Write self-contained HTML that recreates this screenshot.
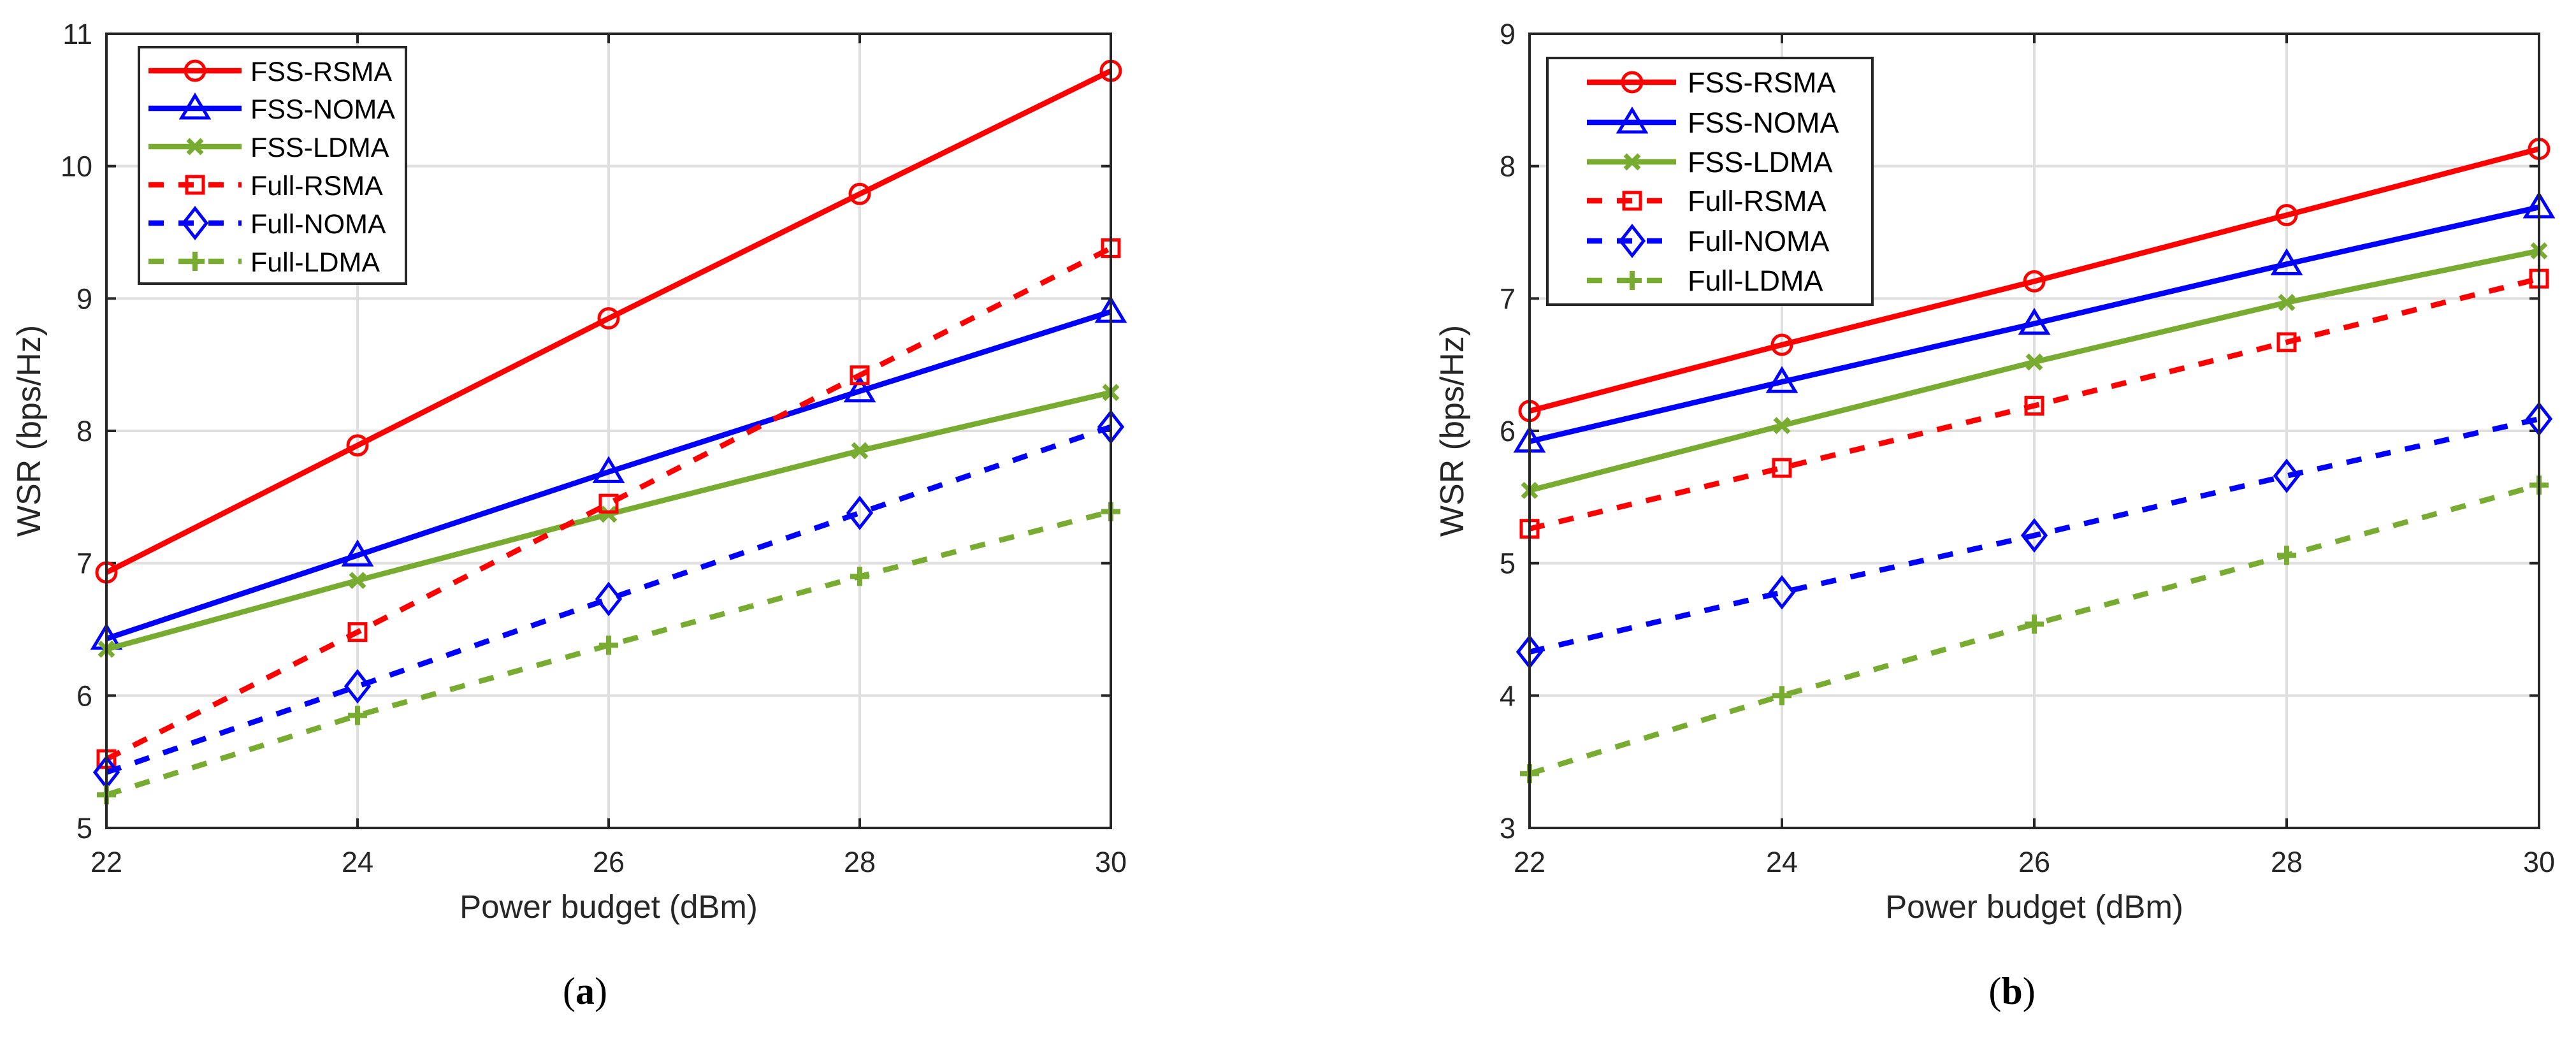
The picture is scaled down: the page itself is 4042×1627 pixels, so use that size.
<!DOCTYPE html>
<html><head><meta charset="utf-8"><style>
html,body{margin:0;padding:0;background:#fff;}
svg{display:block;font-family:"Liberation Sans",Arial,sans-serif;}
</style></head><body>
<svg id="fig" width="4042" height="1627" viewBox="0 0 4042 1627" xmlns="http://www.w3.org/2000/svg"></svg>
<script>
const xCategories = [22, 24, 26, 28, 30];
const seriesNames = ["FSS-RSMA","FSS-NOMA","FSS-LDMA","Full-RSMA","Full-NOMA","Full-LDMA"];
const aFssRsma  = [6.93, 7.89, 8.85, 9.79, 10.72];
const aFssNoma  = [6.43, 7.06, 7.69, 8.30, 8.90];
const aFssLdma  = [6.35, 6.87, 7.37, 7.85, 8.29];
const aFullRsma = [5.52, 6.48, 7.45, 8.42, 9.38];
const aFullNoma = [5.42, 6.07, 6.73, 7.38, 8.03];
const aFullLdma = [5.25, 5.85, 6.38, 6.90, 7.39];
const bFssRsma  = [6.15, 6.65, 7.13, 7.63, 8.13];
const bFssNoma  = [5.92, 6.37, 6.81, 7.26, 7.69];
const bFssLdma  = [5.55, 6.04, 6.52, 6.97, 7.36];
const bFullRsma = [5.26, 5.72, 6.19, 6.67, 7.15];
const bFullNoma = [4.33, 4.78, 5.21, 5.66, 6.09];
const bFullLdma = [3.41, 4.00, 4.54, 5.06, 5.59];
const aYTicks = [5,6,7,8,9,10,11];
const bYTicks = [3,4,5,6,7,8,9];

const NS="http://www.w3.org/2000/svg";
const svg=document.getElementById('fig');
function mk(tag,attrs,parent){const e=document.createElementNS(NS,tag);for(const k in attrs)e.setAttribute(k,attrs[k]);(parent||svg).appendChild(e);return e;}
const styles=[
 {c:"#ff0000",dash:null,m:"circle"},
 {c:"#0000ff",dash:null,m:"tri"},
 {c:"#77ac30",dash:null,m:"x"},
 {c:"#ff0000",dash:"24 23",m:"square"},
 {c:"#0000ff",dash:"24 23",m:"diamond"},
 {c:"#77ac30",dash:"24 23",m:"plus"}];
function marker(g,type,x,y,c){
  let e;
  if(type==="circle"){e=mk('circle',{cx:x,cy:y,r:15,fill:'none',stroke:c,'stroke-width':5},g);}
  else if(type==="tri"){e=mk('polygon',{points:`${x},${y-20} ${x+21},${y+15} ${x-21},${y+15}`,fill:'none',stroke:c,'stroke-width':5},g);}
  else if(type==="x"){e=mk('path',{d:`M${x-11},${y-11}L${x+11},${y+11}M${x-11},${y+11}L${x+11},${y-11}`,stroke:c,'stroke-width':7,fill:'none'},g);}
  else if(type==="square"){e=mk('rect',{x:x-13,y:y-13,width:26,height:26,fill:'none',stroke:c,'stroke-width':5},g);}
  else if(type==="diamond"){e=mk('polygon',{points:`${x},${y-23} ${x+18},${y} ${x},${y+23} ${x-18},${y}`,fill:'none',stroke:c,'stroke-width':5},g);}
  else {e=mk('path',{d:`M${x-15},${y}L${x+15},${y}M${x},${y-15}L${x},${y+15}`,stroke:c,'stroke-width':8,fill:'none'},g);}
  return e;
}
function panel(id,left,right,top,bottom,yTicks,series,leg,caption,capX){
  const y0=yTicks[0],y1=yTicks[yTicks.length-1];
  const X=v=>left+(v-xCategories[0])/(xCategories[xCategories.length-1]-xCategories[0])*(right-left);
  const Y=v=>bottom-(v-y0)/(y1-y0)*(bottom-top);
  const g=mk('g',{});
  
  
  // grid
  xCategories.forEach(v=>{const l=mk('line',{x1:X(v),x2:X(v),y1:top,y2:bottom,stroke:'#dfdfdf','stroke-width':4},g);
    });
  yTicks.forEach(v=>{const l=mk('line',{x1:left,x2:right,y1:Y(v),y2:Y(v),stroke:'#dfdfdf','stroke-width':4},g);
    });
  // ticks
  xCategories.forEach(v=>{
    mk('line',{x1:X(v),x2:X(v),y1:bottom,y2:bottom-15,stroke:'#262626','stroke-width':4},g);
    mk('line',{x1:X(v),x2:X(v),y1:top,y2:top+15,stroke:'#262626','stroke-width':4},g);
    const t=mk('text',{x:X(v),y:1368,'font-size':45,fill:'#262626','text-anchor':'middle'},g);t.textContent=v;
    });
  yTicks.forEach(v=>{
    mk('line',{x1:left,x2:left+15,y1:Y(v),y2:Y(v),stroke:'#262626','stroke-width':4},g);
    mk('line',{x1:right,x2:right-15,y1:Y(v),y2:Y(v),stroke:'#262626','stroke-width':4},g);
    const t=mk('text',{x:left-22,y:Y(v)+16,'font-size':45,fill:'#262626','text-anchor':'end'},g);t.textContent=v;
    });
  // series
  series.forEach((vals,i)=>{
    const s=styles[i];
    const sg=mk('g',{},g);
    
    
    const pts=vals.map((v,j)=>X(xCategories[j])+','+Y(v)).join(' ');
    const a={points:pts,fill:'none',stroke:s.c,'stroke-width':8.5,'stroke-linejoin':'round'};
    if(s.dash)a['stroke-dasharray']=s.dash;
    mk('polyline',a,sg);
    vals.forEach((v,j)=>{const m=marker(sg,s.m,X(xCategories[j]),Y(v),s.c);
      });
  });
  // axes box
  const box=mk('rect',{x:left,y:top,width:right-left,height:bottom-top,fill:'none',stroke:'#262626','stroke-width':4},g);
  
  // legend
  const lg=mk('g',{},g);
  
  
  mk('rect',{x:leg.x,y:leg.y,width:leg.w,height:leg.h,fill:'#fff',stroke:'#262626','stroke-width':4},lg);
  seriesNames.forEach((n,i)=>{
    const s=styles[i];const yy=leg.rows[i];
    const eg=mk('g',{},lg);
    
    
    const a={x1:leg.l1,x2:leg.l2,y1:yy,y2:yy,stroke:s.c,'stroke-width':8.5};
    if(s.dash)a['stroke-dasharray']=s.dash;
    mk('line',a,eg);
    marker(eg,s.m,leg.mx,yy,s.c);
    const t=mk('text',{x:leg.tx,y:yy+16,'font-size':leg.fs,fill:'#000'},eg);t.textContent=n;
  });
  // labels
  const cx=(left+right)/2;
  const xl=mk('text',{x:cx,y:1440,'font-size':51,fill:'#262626','text-anchor':'middle'},g);xl.textContent='Power budget (dBm)';
  
  const yl=mk('text',{x:0,y:0,'font-size':52,fill:'#262626','text-anchor':'middle',transform:`translate(${left-104},${(top+bottom)/2}) rotate(-90)`},g);yl.textContent='WSR (bps/Hz)';
  
  const cap=mk('text',{x:capX,y:1575,'font-size':60,fill:'#000','text-anchor':'middle','font-family':'"Liberation Serif",serif'},g);
  const t1=mk('tspan',{},cap);t1.textContent='(';
  const t2=mk('tspan',{'font-weight':'bold'},cap);t2.textContent=caption;
  const t3=mk('tspan',{},cap);t3.textContent=')';
  
}
panel('panel-a',167,1743,53,1299,aYTicks,[aFssRsma,aFssNoma,aFssLdma,aFullRsma,aFullNoma,aFullLdma],
 {x:218,y:74,w:419,h:371,rows:[111,170,230,290,350,410],l1:233,l2:379,mx:306,tx:393,fs:43},'a',918);
panel('panel-b',2400,3984,53,1299,bYTicks,[bFssRsma,bFssNoma,bFssLdma,bFullRsma,bFullNoma,bFullLdma],
 {x:2428,y:91,w:510,h:387,rows:[129,192,254,315,378,440],l1:2490,l2:2630,mx:2561,tx:2648,fs:45},'b',3157);
</script>
</body></html>
